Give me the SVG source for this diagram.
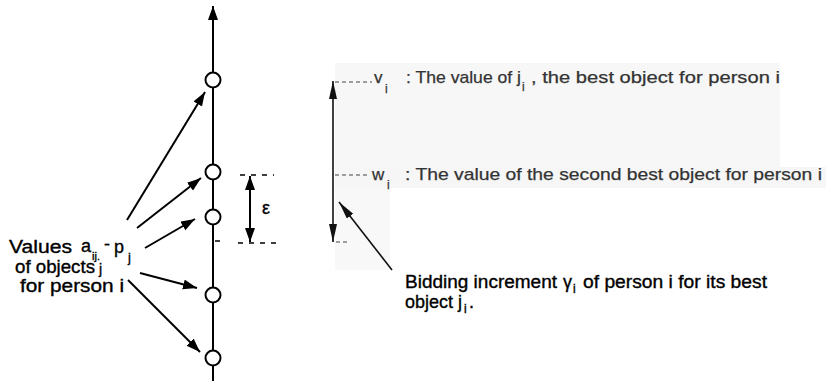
<svg xmlns="http://www.w3.org/2000/svg" width="826" height="381" viewBox="0 0 826 381">
<style>
  .t { font-family: "Liberation Sans", Arial, sans-serif; fill: #000; stroke: #000; stroke-width: 0.35; }
  .g { font-family: "Liberation Sans", Arial, sans-serif; fill: #333; stroke: #333; stroke-width: 0.25; }
  .ln { stroke: #000; stroke-width: 2; fill: none; }
  .thin { stroke: #111; stroke-width: 1.6; fill: none; }
  .dash { stroke: #000; stroke-width: 1.6; stroke-dasharray: 5 6; fill: none; }
  .dashg { stroke: #444; stroke-width: 1.2; stroke-dasharray: 4 3; fill: none; }
  .node { fill: #fff; stroke: #000; stroke-width: 2; }
</style>
<defs>
  <marker id="ah" markerUnits="userSpaceOnUse" markerWidth="16" markerHeight="12" refX="14" refY="5" orient="auto">
    <path d="M0,0 L14,5 L0,10 Z" fill="#000"/>
  </marker>
  <marker id="ahs" markerUnits="userSpaceOnUse" markerWidth="16" markerHeight="12" refX="14" refY="5" orient="auto-start-reverse">
    <path d="M0,0 L14,5 L0,10 Z" fill="#000"/>
  </marker>
  <marker id="ahn" markerUnits="userSpaceOnUse" markerWidth="20" markerHeight="10" refX="18" refY="4" orient="auto-start-reverse">
    <path d="M0,0 L18,4 L0,8 Z" fill="#111"/>
  </marker>
</defs>

<!-- faint scanned background -->
<g id="background">
  <rect x="335" y="63" width="445" height="105" fill="#f7f7f7"/>
  <rect x="335" y="167" width="491" height="21" fill="#f6f6f6"/>
  <rect x="335" y="188" width="55" height="82" fill="#f8f8f8"/>
</g>

<!-- connectors -->
<g id="connectors">
  <line class="ln" x1="213" y1="381" x2="213" y2="6" marker-end="url(#ah)"/>
  <line class="ln" x1="127" y1="220" x2="205" y2="92" marker-end="url(#ah)"/>
  <line class="ln" x1="137" y1="228" x2="201" y2="178" marker-end="url(#ah)"/>
  <line class="ln" x1="145" y1="248" x2="195" y2="219" marker-end="url(#ah)"/>
  <line class="ln" x1="140" y1="273" x2="197" y2="288" marker-end="url(#ah)"/>
  <line class="ln" x1="128" y1="280" x2="200" y2="352" marker-end="url(#ah)"/>
  <line x1="215" y1="241" x2="220" y2="241" stroke="#000" stroke-width="1.5"/>
  <!-- epsilon bracket -->
  <line class="dash" x1="240" y1="175" x2="274" y2="175"/>
  <line class="dash" x1="238" y1="243" x2="280" y2="243"/>
  <line class="ln" x1="250" y1="176" x2="250" y2="242" marker-start="url(#ahs)" marker-end="url(#ahs)"/>
  <!-- right side bracket -->
  <line class="thin" x1="333" y1="81" x2="333" y2="242" marker-start="url(#ahn)" marker-end="url(#ahn)"/>
  <line class="dashg" x1="335" y1="82" x2="372" y2="82"/>
  <line class="dashg" x1="335" y1="175" x2="370" y2="175"/>
  <line class="dashg" x1="336" y1="242" x2="350" y2="242"/>
  <line class="thin" x1="392" y1="270" x2="339" y2="202" marker-end="url(#ahn)"/>
</g>

<!-- nodes on the value axis -->
<g id="node1"><circle class="node" cx="213" cy="80" r="7.5"/></g>
<g id="node2"><circle class="node" cx="213" cy="172" r="7.5"/></g>
<g id="node3"><circle class="node" cx="213" cy="217" r="7.5"/></g>
<g id="node4"><circle class="node" cx="213" cy="295" r="7.5"/></g>
<g id="node5"><circle class="node" cx="213" cy="358" r="7.5"/></g>

<!-- epsilon label -->
<g id="epsilon">
  <text class="t" x="262" y="214" font-size="18">ε</text>
</g>

<!-- left label -->
<g id="values-label">
  <text class="t" x="9" y="253" font-size="18" textLength="63" lengthAdjust="spacingAndGlyphs">Values</text>
  <text class="t" x="81" y="252" font-size="18" textLength="10" lengthAdjust="spacingAndGlyphs">a</text>
  <text class="t" x="92" y="260" font-size="11">ij.</text>
  <text class="t" x="104" y="250" font-size="18">-</text>
  <text class="t" x="114" y="253" font-size="18" textLength="10" lengthAdjust="spacingAndGlyphs">p</text>
  <text class="t" x="128" y="262" font-size="13">j</text>
  <text class="t" x="15" y="273" font-size="18" textLength="80" lengthAdjust="spacingAndGlyphs">of objects</text>
  <text class="t" x="99" y="274" font-size="14">j</text>
  <text class="t" x="20" y="292" font-size="18" textLength="104" lengthAdjust="spacingAndGlyphs">for person i</text>
</g>

<!-- v_i line -->
<g id="vi-label">
  <text class="g" x="374" y="83" font-size="17">v</text>
  <text class="g" x="385" y="93" font-size="12">i</text>
  <text class="g" x="406" y="83" font-size="17" textLength="115" lengthAdjust="spacingAndGlyphs">: The value of j</text>
  <text class="g" x="522" y="91" font-size="12">i</text>
  <text class="g" x="531" y="83" font-size="17" textLength="249" lengthAdjust="spacingAndGlyphs">, the best object for person i</text>
</g>

<!-- w_i line -->
<g id="wi-label">
  <text class="g" x="372" y="180" font-size="17">w</text>
  <text class="g" x="387" y="189" font-size="12">i</text>
  <text class="g" x="405" y="180" font-size="17" textLength="417" lengthAdjust="spacingAndGlyphs">: The value of the second best object for person i</text>
</g>

<!-- bidding increment label -->
<g id="bidding-label">
  <text class="t" x="405" y="288" font-size="18" textLength="152" lengthAdjust="spacingAndGlyphs">Bidding increment</text>
  <text class="t" x="563" y="288" font-size="18">γ</text>
  <text class="t" x="573" y="293" font-size="12">i</text>
  <text class="t" x="583" y="288" font-size="18" textLength="184" lengthAdjust="spacingAndGlyphs">of person i for its best</text>
  <text class="t" x="405" y="308" font-size="18" textLength="48" lengthAdjust="spacingAndGlyphs">object</text>
  <text class="t" x="458" y="308" font-size="18">j</text>
  <text class="t" x="464" y="313" font-size="12">i</text>
  <text class="t" x="469" y="308" font-size="18">.</text>
</g>
</svg>
